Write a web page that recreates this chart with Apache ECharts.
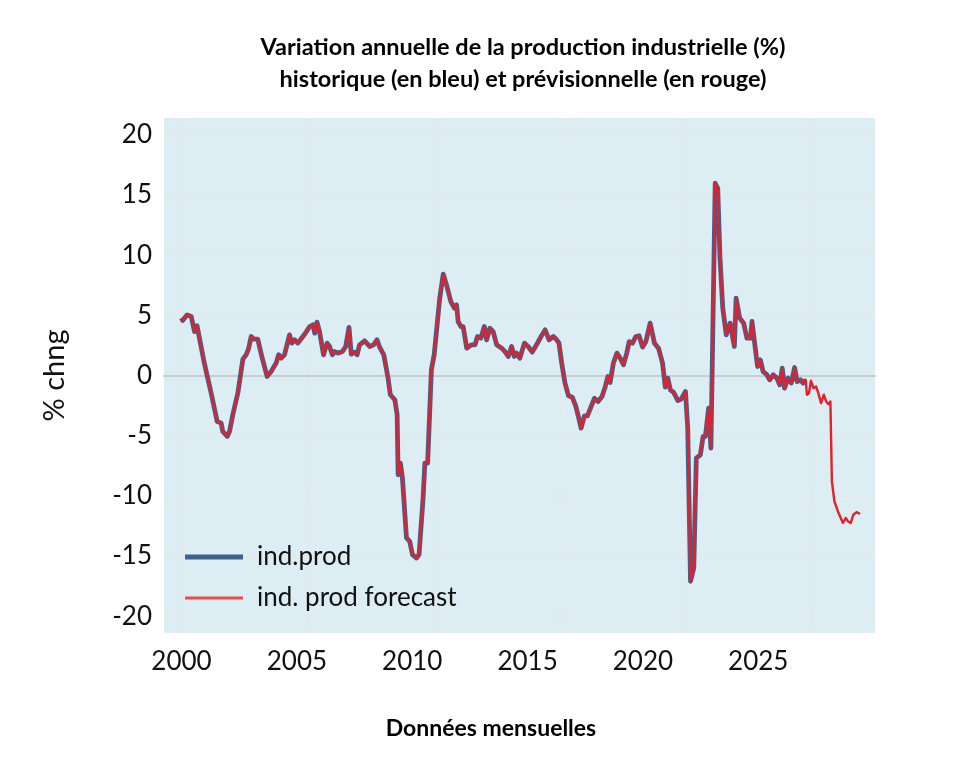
<!DOCTYPE html>
<html>
<head>
<meta charset="utf-8">
<script src="https://cdn.jsdelivr.net/npm/echarts@6/dist/echarts.min.js"></script>
<style>
html,body{margin:0;padding:0;background:#fff;}
#chart{width:973px;height:760px;}
</style>
</head>
<body>
<div id="chart"></div>
<script>
// ---- Data (decimal years, % annual change) ----
const histYears = [2000.00,2000.05,2000.23,2000.39,2000.52,2000.62,2000.91,2001.18,2001.42,2001.58,2001.64,2001.82,2001.91,2002.04,2002.24,2002.44,2002.57,2002.66,2002.77,2002.87,2003.03,2003.19,2003.40,2003.56,2003.76,2003.86,2003.96,2004.09,2004.29,2004.38,2004.49,2004.62,2004.82,2004.96,2005.09,2005.22,2005.29,2005.38,2005.48,2005.64,2005.78,2005.88,2005.99,2006.08,2006.21,2006.39,2006.52,2006.65,2006.74,2006.88,2006.97,2007.07,2007.27,2007.47,2007.63,2007.76,2007.87,2008.03,2008.20,2008.29,2008.47,2008.56,2008.60,2008.69,2008.77,2008.93,2009.06,2009.17,2009.33,2009.43,2009.59,2009.66,2009.77,2009.92,2010.03,2010.16,2010.25,2010.39,2010.52,2010.69,2010.83,2010.92,2010.98,2011.09,2011.18,2011.32,2011.51,2011.65,2011.75,2011.88,2012.02,2012.11,2012.24,2012.37,2012.51,2012.71,2012.84,2012.97,2013.10,2013.21,2013.30,2013.43,2013.61,2013.76,2013.92,2014.09,2014.27,2014.43,2014.59,2014.76,2014.89,2014.98,2015.09,2015.22,2015.36,2015.51,2015.65,2015.75,2015.86,2015.99,2016.11,2016.26,2016.39,2016.53,2016.69,2016.82,2016.92,2017.01,2017.14,2017.28,2017.41,2017.54,2017.67,2017.77,2017.90,2018.03,2018.16,2018.30,2018.43,2018.60,2018.77,2018.93,2019.09,2019.20,2019.30,2019.40,2019.53,2019.70,2019.83,2020.00,2020.09,2020.20,2020.33,2020.43,2020.59,2020.70,2020.79,2020.92,2021.01,2021.18,2021.28,2021.37,2021.48,2021.62,2021.77,2021.94,2022.01,2022.15,2022.31,2022.44,2022.58,2022.64,2022.77,2022.86,2022.97,2023.08,2023.21,2023.34,2023.48,2023.62,2023.74,2023.84,2023.93,2024.06,2024.20,2024.33,2024.43,2024.56,2024.67,2024.77];
const histValues = [4.77,4.57,5.04,4.90,3.65,4.13,1.03,-1.46,-3.82,-3.96,-4.65,-5.07,-4.65,-3.26,-1.46,1.36,1.72,2.19,3.24,3.02,3.02,1.58,-0.08,0.33,1.03,1.72,1.44,1.72,3.38,2.69,2.97,2.69,3.24,3.65,4.07,4.21,3.52,4.43,3.65,1.72,2.69,2.41,1.72,1.99,1.86,1.99,2.41,3.99,1.78,1.94,1.72,2.55,2.88,2.41,2.55,2.97,2.33,1.72,-0.22,-1.60,-2.02,-3.26,-8.25,-7.28,-8.52,-13.50,-13.79,-14.89,-15.17,-14.89,-10.18,-7.28,-7.28,0.50,1.72,4.49,6.43,8.42,7.53,6.15,5.60,5.87,4.49,4.07,4.07,2.27,2.55,2.55,3.24,3.10,4.07,2.97,3.93,3.65,2.55,2.27,1.99,1.58,2.41,1.58,1.86,1.44,2.69,2.41,1.94,2.55,3.24,3.79,2.97,3.24,2.97,2.69,1.03,-0.63,-1.69,-1.80,-2.57,-3.40,-4.37,-3.35,-3.35,-2.57,-1.88,-2.16,-1.74,-0.91,-0.08,-0.58,1.03,1.86,1.44,0.89,1.86,2.82,2.69,3.24,3.30,2.36,2.82,4.35,2.69,2.27,1.03,-0.97,-0.22,-1.19,-1.41,-2.08,-1.96,-1.33,-4.37,-17.10,-16.00,-6.86,-6.59,-5.07,-5.07,-2.71,-6.03,15.98,15.56,9.75,5.60,3.38,4.35,2.41,6.43,4.77,4.35,3.10,3.10,4.49,2.27,0.75,1.30,0.33,0.12,-0.36,0.06,-0.20,-0.77,0.61,-1.05,-0.22,-0.63,0.66,-0.50,-0.36,-0.63,-0.36];
const forecastYears = [2024.82,2024.90,2024.98,2025.08,2025.18,2025.27,2025.38,2025.49,2025.58,2025.67,2025.75,2025.81,2025.91,2026.05,2026.16,2026.25,2026.36,2026.45,2026.56,2026.66,2026.79,2026.93];
const forecastValues = [-1.60,-1.46,-0.44,-1.05,-0.91,-1.46,-2.29,-1.60,-2.16,-2.38,-2.16,-8.80,-10.47,-11.30,-11.84,-12.26,-11.84,-12.13,-12.26,-11.57,-11.35,-11.51];

const seriesNames = ['ind.prod', 'ind. prod forecast'];
const yTickLabels = [-20, -15, -10, -5, 0, 5, 10, 15, 20];
const xTickLabels = [2000, 2005, 2010, 2015, 2020, 2025];
const xGridYears = [2000, 2005, 2010, 2015, 2020, 2025];

const titleText = 'Variation annuelle de la production industrielle (%)\nhistorique (en bleu) et prévisionnelle (en rouge)';
const xAxisTitle = 'Données mensuelles';
const yAxisTitle = '% chng';

// ---- Build ----
const histData = histYears.map((x, i) => [x, histValues[i]]);
const fullData = histData.concat(forecastYears.map((x, i) => [x, forecastValues[i]]));

const FONT = 'Lato';
const BLUE = '#3f6190';
const RED = '#e3212b';
const GRIDC = '#e4e7e8';

const chart = echarts.init(document.getElementById('chart'), null, { renderer: 'canvas' });
chart.setOption({
  animation: false,
  backgroundColor: '#ffffff',
  textStyle: { fontFamily: FONT },
  title: [
    { text: titleText, left: 518, top: 26, textAlign: 'center',
      textStyle: { fontFamily: FONT, fontWeight: 'bold', fontSize: 23.5, lineHeight: 32, color: '#000' } },
    { text: xAxisTitle, left: 486, top: 712, textAlign: 'center',
      textStyle: { fontFamily: FONT, fontWeight: 'bold', fontSize: 23, color: '#000' } }
  ],
  grid: { left: 164, right: 98, top: 118, bottom: 127, show: true, backgroundColor: '#dcedf3', borderWidth: 0 },
  legend: {
    orient: 'vertical',
    left: 180, top: 539,
    itemWidth: 58, itemHeight: 14, itemGap: 15,
    symbolKeepAspect: true,
    data: [
      { name: seriesNames[0], icon: 'path://M0,0H58V5H0Z', itemStyle: { color: BLUE } },
      { name: seriesNames[1], icon: 'path://M0,0H58V3H0Z', itemStyle: { color: '#f04a4a' } }
    ],
    textStyle: { fontFamily: FONT, fontSize: 26, color: '#111', padding: [0, 0, 0, 9] }
  },
  xAxis: [
    { type: 'value', min: 1999.31, max: 2027.52, position: 'top',
      axisLine: { show: true, onZero: true, lineStyle: { color: '#c9cdcf', width: 2 } },
      axisTick: { show: false, customValues: xGridYears },
      axisLabel: { show: false },
      splitLine: { show: true, lineStyle: { color: GRIDC, width: 1.5 } } },
    { type: 'value', min: 1999.24, max: 2030.06, position: 'bottom',
      axisLine: { show: false }, axisTick: { show: false }, splitLine: { show: false },
      axisLabel: { customValues: xTickLabels, fontFamily: FONT, fontSize: 26, color: '#111', margin: 16,
        formatter: v => String(v) } }
  ],
  yAxis: {
    type: 'value', min: -21.4, max: 21.4,
    axisLine: { show: false },
    axisTick: { show: false, customValues: yTickLabels },
    splitLine: { show: true, lineStyle: { color: GRIDC, width: 1.5 } },
    axisLabel: { customValues: yTickLabels, fontFamily: FONT, fontSize: 26, color: '#111', margin: 12,
      formatter: v => String(v) },
    name: yAxisTitle, nameLocation: 'middle', nameGap: 95, nameRotate: 90,
    nameTextStyle: { fontFamily: FONT, fontSize: 29, color: '#111' }
  },
  series: [
    { name: seriesNames[0], type: 'line', xAxisIndex: 0, data: histData, showSymbol: false, symbol: 'none',
      z: 3, color: BLUE, lineStyle: { color: BLUE, width: 4.8, join: 'round' } },
    { name: seriesNames[1], type: 'line', xAxisIndex: 0, data: fullData, showSymbol: false, symbol: 'none',
      z: 4, color: RED, lineStyle: { color: RED, width: 2.4, join: 'round' } }
  ]
});
</script>
</body>
</html>
